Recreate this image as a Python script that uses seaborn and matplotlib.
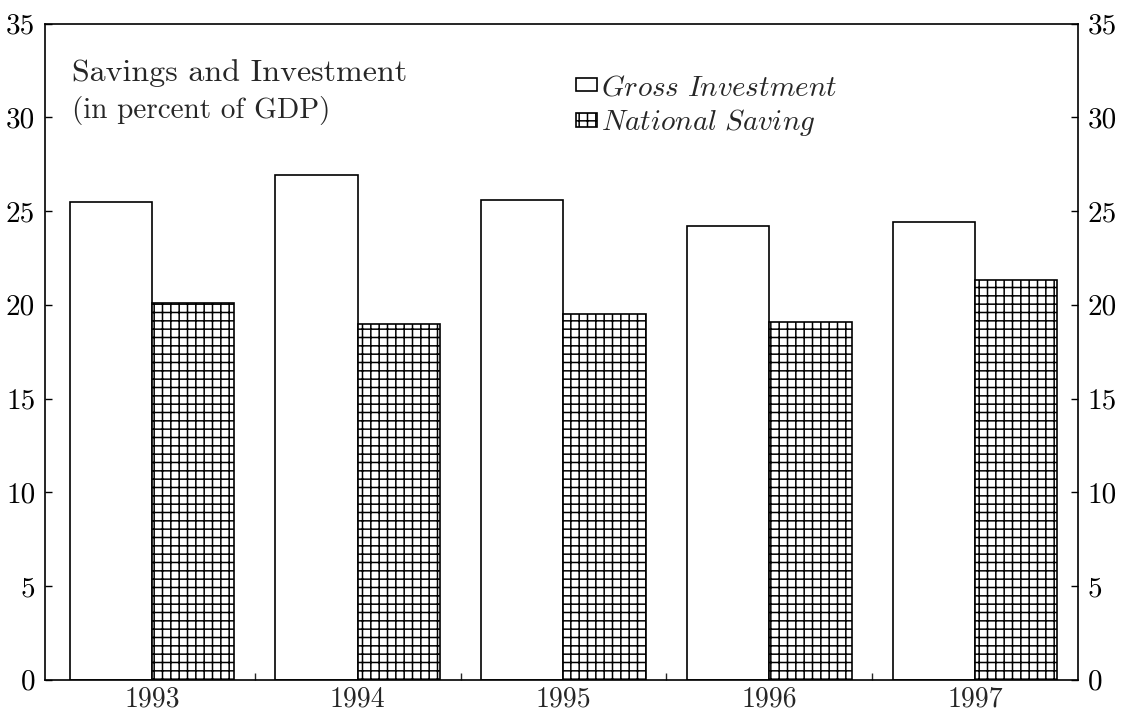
import pandas as pd
import matplotlib
matplotlib.use("Agg")
import matplotlib.pyplot as plt
from matplotlib.ticker import FixedLocator
import seaborn as sns

# values (percent of GDP)
years = ["1993", "1994", "1995", "1996", "1997"]
gross_investment = [25.5, 26.9, 25.6, 24.2, 24.4]
national_saving = [20.1, 19.0, 19.5, 19.1, 21.3]
series_names = ["Gross Investment", "National Saving"]
yticks = [0, 5, 10, 15, 20, 25, 30, 35]

df = pd.DataFrame({
    "year": years * 2,
    "value": gross_investment + national_saving,
    "series": [series_names[0]] * len(years) + [series_names[1]] * len(years),
})

sns.set_style("white")
plt.rcParams["font.family"] = ["cmr10", "DejaVu Serif"]
plt.rcParams["mathtext.fontset"] = "cm"
plt.rcParams["axes.unicode_minus"] = False
plt.rcParams["hatch.linewidth"] = 1.1

fig = plt.figure(figsize=(11.24, 7.17), dpi=100)
ax = fig.add_axes([0.040, 0.052, 0.919, 0.915])

sns.barplot(data=df, x="year", y="value", hue="series", palette=["white", "white"],
            edgecolor="black", linewidth=1.2, width=0.8, saturation=1,
            legend=False, ax=ax)

# cross hatch for national saving
for bar in ax.containers[1]:
    bar.set_hatch("++")

ax.set_ylim(0, 35)
ax.set_xlim(-0.52, 4.5)
ax.set_yticks(yticks)
ax.set_xlabel("")
ax.set_ylabel("")

for side in ["top", "bottom", "left", "right"]:
    ax.spines[side].set_visible(True)
    ax.spines[side].set_color("black")
    ax.spines[side].set_linewidth(1.2)

ax.tick_params(axis="y", direction="in", length=5, width=1, left=True, right=True,
               labelleft=True, labelright=True, labelsize=21, pad=7, colors="black")
ax.tick_params(axis="x", which="major", length=0, labelsize=20, pad=5)
ax.xaxis.set_minor_locator(FixedLocator([0.5, 1.5, 2.5, 3.5]))
ax.tick_params(axis="x", which="minor", direction="in", length=5, width=1, bottom=True)

ax.text(0.026, 0.912, "Savings and Investment", transform=ax.transAxes,
        fontsize=23, va="baseline", ha="left")
ax.text(0.026, 0.856, "(in percent of GDP)", transform=ax.transAxes,
        fontsize=21, va="baseline", ha="left")

handles = [ax.containers[0][0], ax.containers[1][0]]
labels = [r"$\mathit{Gross\ Investment}$", r"$\mathit{National\ Saving}$"]
ax.legend(handles, labels, loc="upper left", bbox_to_anchor=(0.503, 0.94),
          frameon=False, fontsize=21, handlelength=0.72, handleheight=0.32,
          handletextpad=0.12, labelspacing=0.22, borderaxespad=0)

fig.savefig("out.png", dpi=100)
